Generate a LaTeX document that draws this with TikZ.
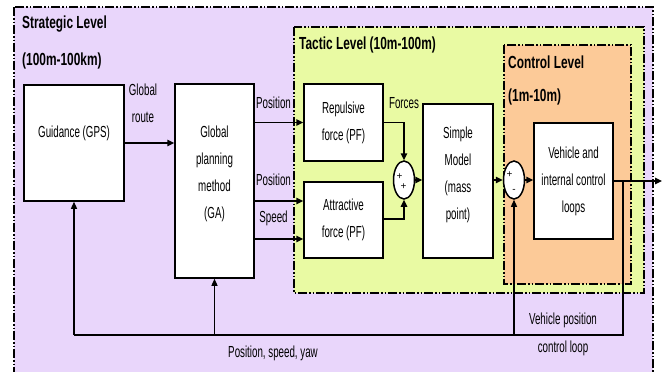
\documentclass[tikz,border=0pt]{standalone}
\usepackage{fontspec}
\setmainfont[FakeStretch=0.61]{Liberation Sans}
\newfontfamily\ttlfont[FakeStretch=0.68]{Liberation Sans}
\newfontfamily\sgnfont{Liberation Sans}
\usetikzlibrary{arrows.meta,shapes.geometric}
\definecolor{stratcol}{RGB}{233,214,251}
\definecolor{tactcol}{RGB}{233,250,163}
\definecolor{ctrlcol}{RGB}{252,202,152}
\tikzset{
  zone/.style={line width=1.4pt, dash pattern=on 9pt off 2pt on 1.5pt off 2pt on 1.5pt off 2pt},
  blk/.style={draw, line width=1.5pt, fill=white, align=center, inner sep=0pt, font=\fontsize{16}{27}\selectfont},
  txt/.style={align=center, inner sep=0pt, font=\fontsize{16}{27}\selectfont},
  ttl/.style={anchor=west, inner sep=0pt, font=\ttlfont\fontsize{17.5}{20}\selectfont\bfseries},
  sumj/.style={draw, ellipse, line width=1.5pt, fill=white, minimum width=21pt, minimum height=38pt, inner sep=0pt},
  sgn/.style={inner sep=0pt, font=\sgnfont\fontsize{10}{10}\selectfont},
  arr/.style={line width=1.5pt, -{Triangle[length=7pt,width=6.5pt]}},
  fb/.style={line width=1.2pt},
  fbarr/.style={line width=1.2pt, -{Triangle[length=7pt,width=6pt]}}
}
\begin{document}
\begin{tikzpicture}[x=1pt,y=-1pt]
\useasboundingbox (0,0) rectangle (667,372);
\clip (0,0) rectangle (667,372);
\fill[white] (0,0) rectangle (667,372);
% zones
\filldraw[zone, fill=stratcol] (14,7) rectangle (653,390);
\filldraw[zone, fill=tactcol] (294,27) rectangle (644,293);
\filldraw[zone, fill=ctrlcol] (504,45) rectangle (631,284);
% titles
\node[ttl] (t1) at (22,24) {Strategic Level};
\node[ttl] (t2) at (22,61) {(100m-100km)};
\node[ttl] (t3) at (299,45) {Tactic Level (10m-100m)};
\node[ttl] (t4) at (508,62) {Control Level};
\node[ttl] (t5) at (508,97) {(1m-10m)};
% blocks
\node[blk, minimum width=100pt, minimum height=116pt] (gd) at (74,143) {};
\node[txt] (gdt) at (74,133) {Guidance (GPS)};
\node[blk, minimum width=79pt, minimum height=194pt] (gp) at (214.5,181) {};
\node[txt] (gpt) at (214.5,174) {Global\\planning\\method\\(GA)};
\node[blk, minimum width=79pt, minimum height=77pt] (rep) at (343.5,122.5) {Repulsive\\force (PF)};
\node[blk, minimum width=79pt, minimum height=76pt] (att) at (343.5,220) {Attractive\\force (PF)};
\node[blk, minimum width=70pt, minimum height=154pt] (sm) at (458,181) {};
\node[txt] (smt) at (458,175) {Simple\\Model\\(mass\\point)};
\node[blk, minimum width=79pt, minimum height=116pt] (veh) at (573.5,181) {Vehicle and\\internal control\\loops};
% summing junctions
\node[sumj] (s1) at (404,180) {};
\node[sgn] (s1a) at (399.5,176.5) {+};
\node[sgn] (s1b) at (403.5,187) {+};
\node[sumj] (s2) at (514,180) {};
\node[sgn] (s2a) at (509.5,175) {+};
\node[sgn] (s2b) at (514,191) {-};
% labels
\node[txt] (lg1) at (143,90) {Global};
\node[txt] (lg2) at (143,117) {route};
\node[txt] (lp1) at (273.5,103) {Position};
\node[txt] (lp2) at (273.5,180) {Position};
\node[txt] (lsp) at (273.5,218) {Speed};
\node[txt] (lf) at (404,103) {Forces};
\node[txt] (lvp1) at (563,320) {Vehicle position};
\node[txt] (lvp2) at (563,348) {control loop};
\node[txt] (lpsy) at (273,353) {Position, speed, yaw};
% coordinates
\coordinate (out) at (662,181);
\coordinate (fbr) at (623,335);
\coordinate (fbl) at (74,335);
% connectors
\draw[arr] (gd.east) -- (gd.east -| gp.west);
\draw[arr] (gp.east |- rep.west) -- (rep.west);
\draw[arr] (gp.east |- 0,201) -- (att.west |- 0,201);
\draw[arr] (gp.east |- 0,239) -- (att.west |- 0,239);
\draw[arr] (rep.east) -| (s1.north);
\draw[arr] (att.east |- 0,219) -| (s1.south);
\draw[arr] (s1.east) -- (s1.east -| sm.west);
\draw[arr] (sm.east |- s2.west) -- (s2.west);
\draw[arr] (s2.east) -- (s2.east -| veh.west);
\draw[arr] (veh.east) -- (out);
\draw[fb] (fbr |- veh.east) -- (fbr) -- (fbl);
\draw[fbarr] (fbl) -- (gd.south);
\draw[fbarr] (gp.south |- fbl) -- (gp.south);
\draw[fbarr] (s2.south |- fbl) -- (s2.south);
\end{tikzpicture}
\end{document}
